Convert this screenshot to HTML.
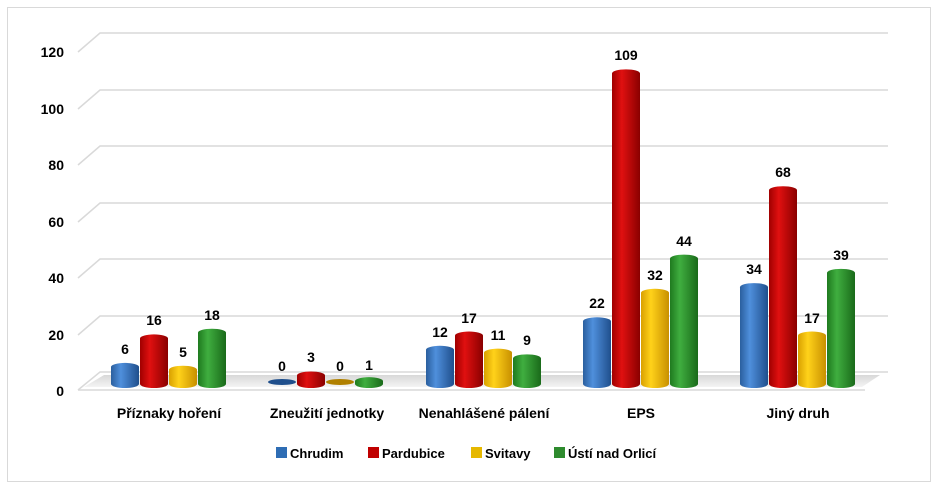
<!DOCTYPE html>
<html><head><meta charset="utf-8"><style>
html,body{margin:0;padding:0;background:#fff;}
svg{display:block;font-family:"Liberation Sans",sans-serif;font-weight:bold;}
</style></head><body>
<svg width="943" height="490" viewBox="0 0 943 490">
<defs>
<linearGradient id="gb" x1="0" x2="1"><stop offset="0" stop-color="#2a5f9e"/><stop offset="0.35" stop-color="#4f8fdc"/><stop offset="1" stop-color="#1f4f8c"/></linearGradient>
<linearGradient id="gr" x1="0" x2="1"><stop offset="0" stop-color="#a00000"/><stop offset="0.35" stop-color="#e01010"/><stop offset="1" stop-color="#8a0000"/></linearGradient>
<linearGradient id="gy" x1="0" x2="1"><stop offset="0" stop-color="#d9a000"/><stop offset="0.35" stop-color="#ffd21a"/><stop offset="1" stop-color="#c89000"/></linearGradient>
<linearGradient id="gg" x1="0" x2="1"><stop offset="0" stop-color="#1f7a1f"/><stop offset="0.35" stop-color="#3fae3f"/><stop offset="1" stop-color="#1a6a1a"/></linearGradient>
<linearGradient id="fl" x1="0" y1="0" x2="0" y2="1"><stop offset="0" stop-color="#d8d8d8"/><stop offset="1" stop-color="#f4f4f4"/></linearGradient>
</defs>
<rect x="7.5" y="7.5" width="923" height="474" fill="#fff" stroke="#d9d9d9"/>
<g stroke="#d9d9d9" stroke-width="1.5" fill="none">
<path d="M78 52 L100 33 H888"/>
<path d="M78 109 L100 90 H888"/>
<path d="M78 165 L100 146 H888"/>
<path d="M78 222 L100 203 H888"/>
<path d="M78 278 L100 259 H888"/>
<path d="M78 335 L100 316 H888"/>
<path d="M78 390 L100 372 H888"/>
<path d="M78 390 H865"/>
</g>
<polygon points="84,387 104,375 880,375 862,387" fill="url(#fl)"/>
<g font-size="14" fill="#000" text-anchor="end">
<text x="64" y="57">120</text><text x="64" y="114">100</text><text x="64" y="170">80</text>
<text x="64" y="227">60</text><text x="64" y="283">40</text><text x="64" y="340">20</text><text x="64" y="396">0</text>
</g>

<g font-size="14" text-anchor="middle" fill="#000">
<!-- G0 -->
<rect x="111" y="366.9" width="28" height="17.1" fill="url(#gb)"/><ellipse cx="125" cy="384" rx="14" ry="4" fill="url(#gb)"/><ellipse cx="125" cy="366.9" rx="14" ry="4" fill="url(#gb)"/><text x="125" y="354">6</text>
<rect x="140" y="338.4" width="28" height="45.6" fill="url(#gr)"/><ellipse cx="154" cy="384" rx="14" ry="4" fill="url(#gr)"/><ellipse cx="154" cy="338.4" rx="14" ry="4" fill="url(#gr)"/><text x="154" y="325">16</text>
<rect x="169" y="369.75" width="28" height="14.25" fill="url(#gy)"/><ellipse cx="183" cy="384" rx="14" ry="4" fill="url(#gy)"/><ellipse cx="183" cy="369.75" rx="14" ry="4" fill="url(#gy)"/><text x="183" y="357">5</text>
<rect x="198" y="332.7" width="28" height="51.3" fill="url(#gg)"/><ellipse cx="212" cy="384" rx="14" ry="4" fill="url(#gg)"/><ellipse cx="212" cy="332.7" rx="14" ry="4" fill="url(#gg)"/><text x="212" y="320">18</text>
<!-- G1 -->
<ellipse cx="282" cy="382" rx="14" ry="3" fill="#1f4f8c"/><text x="282" y="371">0</text>
<rect x="297" y="375.45" width="28" height="8.55" fill="url(#gr)"/><ellipse cx="311" cy="384" rx="14" ry="4" fill="url(#gr)"/><ellipse cx="311" cy="375.45" rx="14" ry="4" fill="url(#gr)"/><text x="311" y="362">3</text>
<ellipse cx="340" cy="382" rx="14" ry="3" fill="#b08000"/><text x="340" y="371">0</text>
<rect x="355" y="381.15" width="28" height="2.85" fill="url(#gg)"/><ellipse cx="369" cy="384" rx="14" ry="4" fill="url(#gg)"/><ellipse cx="369" cy="381.15" rx="14" ry="4" fill="url(#gg)"/><text x="369" y="370">1</text>
<!-- G2 -->
<rect x="426" y="349.8" width="28" height="34.2" fill="url(#gb)"/><ellipse cx="440" cy="384" rx="14" ry="4" fill="url(#gb)"/><ellipse cx="440" cy="349.8" rx="14" ry="4" fill="url(#gb)"/><text x="440" y="337">12</text>
<rect x="455" y="335.55" width="28" height="48.45" fill="url(#gr)"/><ellipse cx="469" cy="384" rx="14" ry="4" fill="url(#gr)"/><ellipse cx="469" cy="335.55" rx="14" ry="4" fill="url(#gr)"/><text x="469" y="323">17</text>
<rect x="484" y="352.65" width="28" height="31.35" fill="url(#gy)"/><ellipse cx="498" cy="384" rx="14" ry="4" fill="url(#gy)"/><ellipse cx="498" cy="352.65" rx="14" ry="4" fill="url(#gy)"/><text x="498" y="340">11</text>
<rect x="513" y="358.35" width="28" height="25.65" fill="url(#gg)"/><ellipse cx="527" cy="384" rx="14" ry="4" fill="url(#gg)"/><ellipse cx="527" cy="358.35" rx="14" ry="4" fill="url(#gg)"/><text x="527" y="345">9</text>
<!-- G3 -->
<rect x="583" y="321.3" width="28" height="62.7" fill="url(#gb)"/><ellipse cx="597" cy="384" rx="14" ry="4" fill="url(#gb)"/><ellipse cx="597" cy="321.3" rx="14" ry="4" fill="url(#gb)"/><text x="597" y="308">22</text>
<rect x="612" y="73.35" width="28" height="310.65" fill="url(#gr)"/><ellipse cx="626" cy="384" rx="14" ry="4" fill="url(#gr)"/><ellipse cx="626" cy="73.35" rx="14" ry="4" fill="url(#gr)"/><text x="626" y="60">109</text>
<rect x="641" y="292.8" width="28" height="91.2" fill="url(#gy)"/><ellipse cx="655" cy="384" rx="14" ry="4" fill="url(#gy)"/><ellipse cx="655" cy="292.8" rx="14" ry="4" fill="url(#gy)"/><text x="655" y="280">32</text>
<rect x="670" y="258.6" width="28" height="125.4" fill="url(#gg)"/><ellipse cx="684" cy="384" rx="14" ry="4" fill="url(#gg)"/><ellipse cx="684" cy="258.6" rx="14" ry="4" fill="url(#gg)"/><text x="684" y="246">44</text>
<!-- G4 -->
<rect x="740" y="287.1" width="28" height="96.9" fill="url(#gb)"/><ellipse cx="754" cy="384" rx="14" ry="4" fill="url(#gb)"/><ellipse cx="754" cy="287.1" rx="14" ry="4" fill="url(#gb)"/><text x="754" y="274">34</text>
<rect x="769" y="190.2" width="28" height="193.8" fill="url(#gr)"/><ellipse cx="783" cy="384" rx="14" ry="4" fill="url(#gr)"/><ellipse cx="783" cy="190.2" rx="14" ry="4" fill="url(#gr)"/><text x="783" y="177">68</text>
<rect x="798" y="335.55" width="28" height="48.45" fill="url(#gy)"/><ellipse cx="812" cy="384" rx="14" ry="4" fill="url(#gy)"/><ellipse cx="812" cy="335.55" rx="14" ry="4" fill="url(#gy)"/><text x="812" y="323">17</text>
<rect x="827" y="272.85" width="28" height="111.15" fill="url(#gg)"/><ellipse cx="841" cy="384" rx="14" ry="4" fill="url(#gg)"/><ellipse cx="841" cy="272.85" rx="14" ry="4" fill="url(#gg)"/><text x="841" y="260">39</text>
</g>

<g font-size="14" text-anchor="middle" fill="#000">
<text x="169" y="418">Příznaky hoření</text>
<text x="327" y="418">Zneužití jednotky</text>
<text x="484" y="418">Nenahlášené pálení</text>
<text x="641" y="418">EPS</text>
<text x="798" y="418">Jiný druh</text>
</g>
<g font-size="13" fill="#000">
<rect x="276" y="447" width="11" height="11" fill="#2e6db4"/><text x="290" y="458">Chrudim</text>
<rect x="368" y="447" width="11" height="11" fill="#c00000"/><text x="382" y="458">Pardubice</text>
<rect x="471" y="447" width="11" height="11" fill="#e6b800"/><text x="485" y="458">Svitavy</text>
<rect x="554" y="447" width="11" height="11" fill="#2e8b2e"/><text x="568" y="458">Ústí nad Orlicí</text>
</g>
</svg>
</body></html>
